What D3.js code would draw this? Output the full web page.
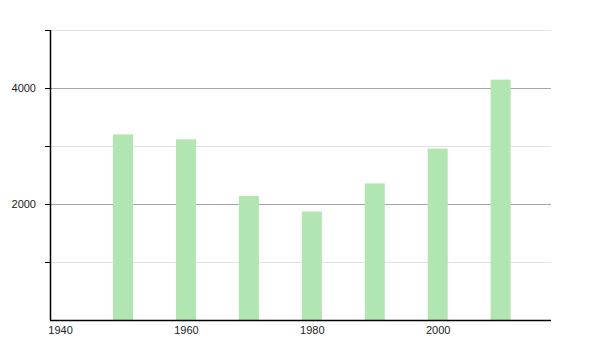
<!DOCTYPE html>
<html>
<head>
<meta charset="utf-8">
<script src="https://cdn.jsdelivr.net/npm/d3@7/dist/d3.min.js"></script>
<style>
  body { margin: 0; background: #fff; }
  svg { display: block; font-family: "Liberation Sans", Arial, sans-serif; }
</style>
</head>
<body>
<svg id="chart"></svg>
<script>
// values
var years = [1950, 1960, 1970, 1980, 1990, 2000, 2010];
var values = [3200, 3115, 2137, 1870, 2355, 2955, 4144];
var xTicks = [1940, 1960, 1980, 2000];
var yMajor = [2000, 4000];
var yMinor = [1000, 3000, 5000];

var margin = {top: 30, right: 49, bottom: 30, left: 50},
    width = 600 - margin.left - margin.right,
    height = 350 - margin.top - margin.bottom;

var svg = d3.select("#chart")
    .attr("width", 600)
    .attr("height", 350)
  .append("g")
    .attr("transform", "translate(" + margin.left + "," + margin.top + ")");

var x = d3.scaleLinear()
    .domain([1938.4, 2018])
    .range([0, width]);

var y = d3.scaleLinear()
    .domain([0, 5000])
    .range([height, 0]);

// grid lines
svg.selectAll(".grid-minor")
    .data(yMinor)
  .enter().append("line")
    .attr("class", "grid-minor")
    .attr("x1", 0).attr("x2", width)
    .attr("y1", function(d) { return Math.round(y(d)) + 0.5; })
    .attr("y2", function(d) { return Math.round(y(d)) + 0.5; })
    .attr("stroke", "#e2e2e2");

svg.selectAll(".grid-major")
    .data(yMajor)
  .enter().append("line")
    .attr("class", "grid-major")
    .attr("x1", 0).attr("x2", width)
    .attr("y1", function(d) { return Math.round(y(d)) + 0.5; })
    .attr("y2", function(d) { return Math.round(y(d)) + 0.5; })
    .attr("stroke", "#a6a6a6");

// bars
var barW = 20;
svg.selectAll(".bar")
    .data(years)
  .enter().append("rect")
    .attr("class", "bar")
    .attr("x", function(d) { return x(d) - barW / 2; })
    .attr("y", function(d, i) { return y(values[i]); })
    .attr("width", barW)
    .attr("height", function(d, i) { return height - y(values[i]); })
    .attr("fill", "#b1e5b1");

// y axis
var yAxis = svg.append("g")
    .attr("class", "axis axis--y")
    .call(d3.axisLeft(y)
      .tickValues([1000, 2000, 3000, 4000, 5000])
      .tickSize(5)
      .tickPadding(9)
      .tickFormat(function(d) { return yMajor.indexOf(d) >= 0 ? d : ""; }));
yAxis.select(".domain").attr("d", "M0.5," + height + "V0").attr("stroke", "#000").attr("stroke-width", 1.5);
yAxis.selectAll(".tick line").attr("stroke", "#000");
yAxis.selectAll("text").attr("font-size", 11).attr("fill", "#222");

// x axis
var xAxis = svg.append("g")
    .attr("class", "axis axis--x")
    .attr("transform", "translate(0," + height + ")")
    .call(d3.axisBottom(x)
      .tickValues(xTicks)
      .tickSize(0)
      .tickPadding(6)
      .tickFormat(d3.format("d")));
xAxis.select(".domain").attr("d", "M0,0.5H" + width).attr("stroke", "#000").attr("stroke-width", 1.5);
xAxis.selectAll("text").attr("font-size", 11).attr("fill", "#222");
</script>
</body>
</html>
